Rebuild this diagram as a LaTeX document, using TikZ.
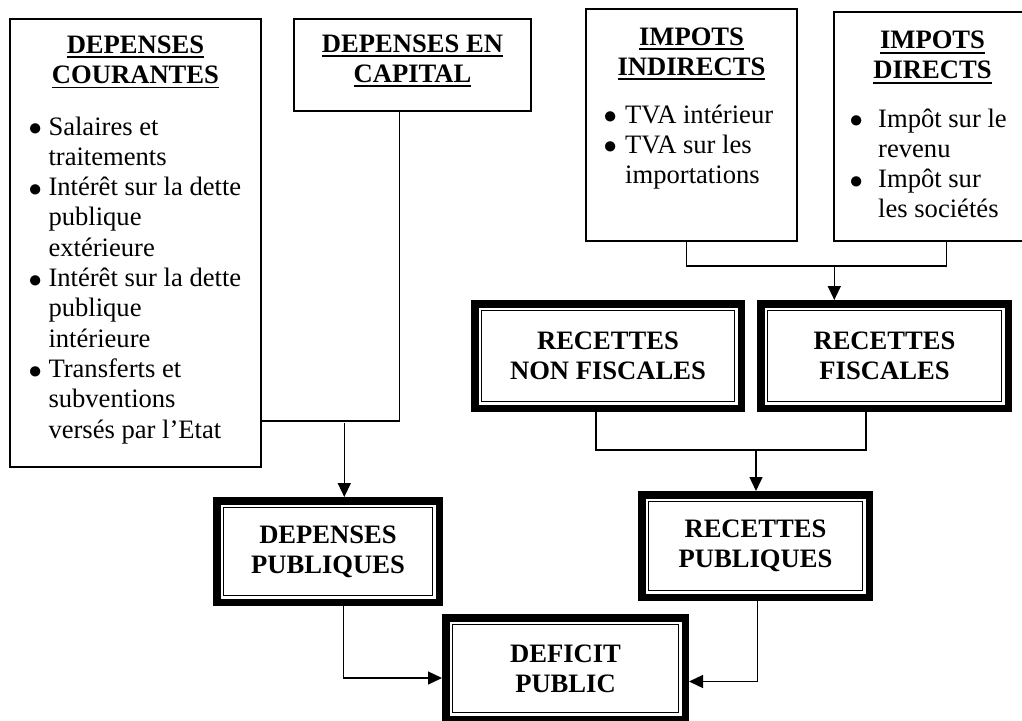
\documentclass[tikz,border=0pt]{standalone}
\usepackage{fontspec}
\usepackage{fix-cm}
\setmainfont{Liberation Serif}
\usetikzlibrary{arrows.meta}
\newlength\myulw
\newcommand{\myul}[1]{\settowidth{\myulw}{#1}\rlap{\rule[-5pt]{\myulw}{1.8pt}}#1}
\newcommand{\bigtxt}{\fontsize{26.6pt}{30.3pt}\selectfont}
\newcommand{\bul}{\makebox[0pt]{\raisebox{-0.6pt}{$\bullet$}}}
\begin{document}
\begin{tikzpicture}[x=1pt,y=-1pt,
  box/.style={draw, line width=1.6pt, outer sep=0.8pt, inner sep=0pt},
  dbox/.style={draw, line width=7.5pt, outer sep=3.75pt, inner sep=0pt, font=\bigtxt\bfseries, align=center},
  txt/.style={inner sep=0pt, font=\bigtxt},
  ttl/.style={inner sep=0pt, font=\bigtxt\bfseries, anchor=base},
  conn/.style={line width=1.4pt},
  arr/.style={line width=1.4pt, -{Triangle[length=14pt,width=13pt]}},
]
\useasboundingbox (0,0) rectangle (1022,720);
\fill[white] (0,0) rectangle (1022,720);
\clip (0,0) rectangle (1022,720);

% plain boxes
\node[box, minimum width=251.4pt, minimum height=448.4pt] (dc) at (135.5,243) {};
\node[box, minimum width=237.4pt, minimum height=92.4pt] (dec) at (412.5,65) {};
\node[box, minimum width=211.4pt, minimum height=232.4pt] (ii) at (691.5,125) {};
\node[box, minimum width=197.4pt, minimum height=229.4pt] (id) at (932.5,126.5) {};

% double boxes
\node[dbox, minimum width=266.5pt, minimum height=104.5pt] (rnf) at (608,356) {RECETTES\\NON FISCALES};
\node[dbox, minimum width=247.5pt, minimum height=104.5pt] (rf) at (884.5,356) {RECETTES\\FISCALES};
\node[dbox, minimum width=227.5pt, minimum height=102.5pt] (rp) at (755.5,546) {RECETTES\\PUBLIQUES};
\node[dbox, minimum width=222.5pt, minimum height=101.5pt] (dp) at (328,551.5) {DEPENSES\\PUBLIQUES};
\node[dbox, minimum width=239.5pt, minimum height=101.5pt] (def) at (565.5,668.5) {DEFICIT\\PUBLIC};
\foreach \n in {rnf,rf,rp,dp,def}
  \draw[line width=1.5pt] ([shift={(10.5pt,-10.5pt)}]\n.north west) rectangle ([shift={(-10.5pt,10.5pt)}]\n.south east);

% titles
\node[ttl] (dct) at (135.5,53) {\begin{tabular}[t]{@{}c@{}}\myul{DEPENSES}\\\myul{COURANTES}\end{tabular}};
\node[ttl] (dect) at (412.5,52) {\begin{tabular}[t]{@{}c@{}}\myul{DEPENSES EN}\\\myul{CAPITAL}\end{tabular}};
\node[ttl] (iit) at (691.5,45) {\begin{tabular}[t]{@{}c@{}}\myul{IMPOTS}\\\myul{INDIRECTS}\end{tabular}};
\node[ttl] (idt) at (932.5,48.5) {\begin{tabular}[t]{@{}c@{}}\myul{IMPOTS}\\\myul{DIRECTS}\end{tabular}};

% lists (node placed at bullet centre)
\node[txt, anchor=base west] (dcl) at (35,135) {\begin{tabular}[t]{@{}l@{\hspace{13.3pt}}l@{}}
\bul&Salaires et\\
&traitements\\
\bul&Intérêt sur la dette\\
&publique\\
&extérieure\\
\bul&Intérêt sur la dette\\
&publique\\
&intérieure\\
\bul&Transferts et\\
&subventions\\
&versés par l’Etat
\end{tabular}};
\node[txt, anchor=base west] (iil) at (610,123) {\begin{tabular}[t]{@{}l@{\hspace{15pt}}l@{}}
\bul&TVA intérieur\\
\bul&TVA sur les\\
&importations
\end{tabular}};
\node[txt, anchor=base west] (idl) at (856,127) {\begin{tabular}[t]{@{}l@{\hspace{22pt}}l@{}}
\bul&Impôt sur le\\
&revenu\\
\bul&Impôt sur\\
&les sociétés
\end{tabular}};

% connectors
\coordinate (j1) at (399.3,421);
\draw[conn] (j1 |- dec.south) -- (j1) -- (j1 -| dc.east);
\coordinate (a1) at (344.3,423);
\draw[arr] (a1) -- (a1 |- dp.north);

\coordinate (j2) at (686.7,266);
\coordinate (j3) at (946.7,266);
\draw[conn] (j2 |- ii.south) -- (j2) -- (j3) -- (j3 |- id.south);
\coordinate (a2) at (834.3,266);
\draw[arr] (a2) -- (a2 |- rf.north);

\coordinate (j4) at (596,450);
\coordinate (j5) at (866,450);
\draw[conn] (j4 |- rnf.south) -- (j4) -- (j5) -- (j5 |- rf.south);
\coordinate (a3) at (756,450);
\draw[arr] (a3) -- (a3 |- rp.north);

\coordinate (c1) at (343.3,678);
\draw[arr] (c1 |- dp.south) -- (c1) -- (c1 -| def.west);
\coordinate (c2) at (757.3,681.5);
\draw[arr] (c2 |- rp.south) -- (c2) -- (c2 -| def.east);
\end{tikzpicture}
\end{document}
